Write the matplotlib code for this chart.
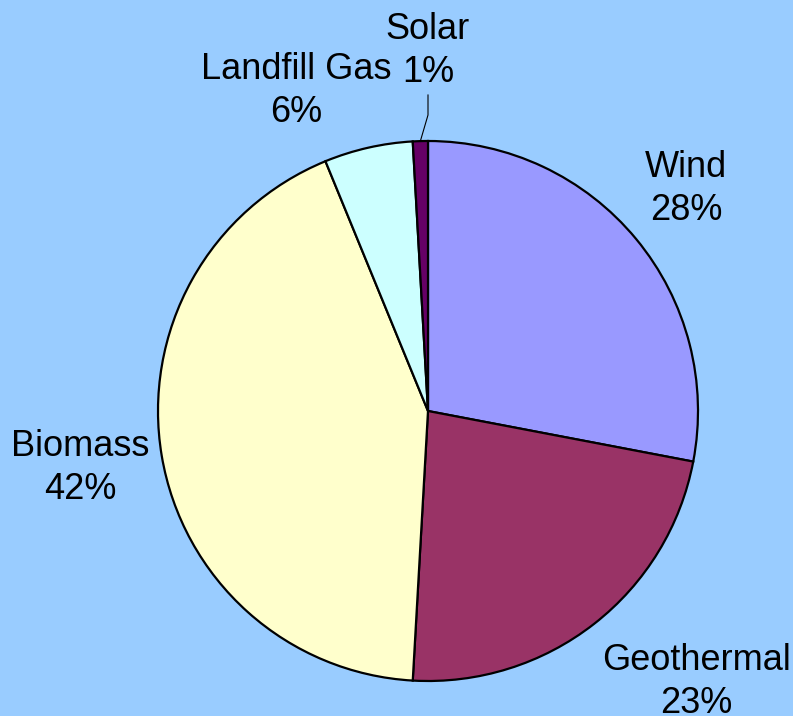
import numpy as np
import matplotlib.pyplot as plt

# renewable energy shares (slice sizes)
sources = ["Wind", "Geothermal", "Biomass", "Landfill Gas", "Solar"]
shares = [28.0, 22.9, 42.9, 5.3, 0.9]
pct_labels = ["28%", "23%", "42%", "6%", "1%"]
colors = ["#9999FF", "#993366", "#FFFFCC", "#CCFFFF", "#660066"]

bg = "#99CCFF"
fig = plt.figure(figsize=(7.93, 7.16), dpi=100, facecolor=bg)
ax = fig.add_axes([0, 0, 1, 1])
ax.set_facecolor(bg)

cx, cy, r = 428, 305, 270
wedges, _ = ax.pie(shares, colors=colors, startangle=90, counterclock=False,
                   center=(cx, cy), radius=r,
                   wedgeprops=dict(edgecolor="black", linewidth=1.6))

ax.set_xlim(0, 793)
ax.set_ylim(0, 716)
ax.set_aspect("equal")
ax.axis("off")

# label positions (pixel units, y measured up from bottom)
label_pos = {
    "Wind": (686, 527),
    "Geothermal": (696, 34),
    "Biomass": (80, 248),
    "Landfill Gas": (296, 625),
    "Solar": (428, 665),
}
for name, pct in zip(sources, pct_labels):
    x, y = label_pos[name]
    ax.text(x, y, name + "\n" + pct, ha="center", va="center",
            fontsize=26, family="Liberation Sans", linespacing=1.3)

# leader line for Solar
w = wedges[4]
mid = np.deg2rad((w.theta1 + w.theta2) / 2)
tx, ty = cx + r * np.cos(mid), cy + r * np.sin(mid)
ax.plot([428, 428, tx], [621, 601, ty], color="black", linewidth=0.8)

fig.savefig("out.png", dpi=100, facecolor=bg)
